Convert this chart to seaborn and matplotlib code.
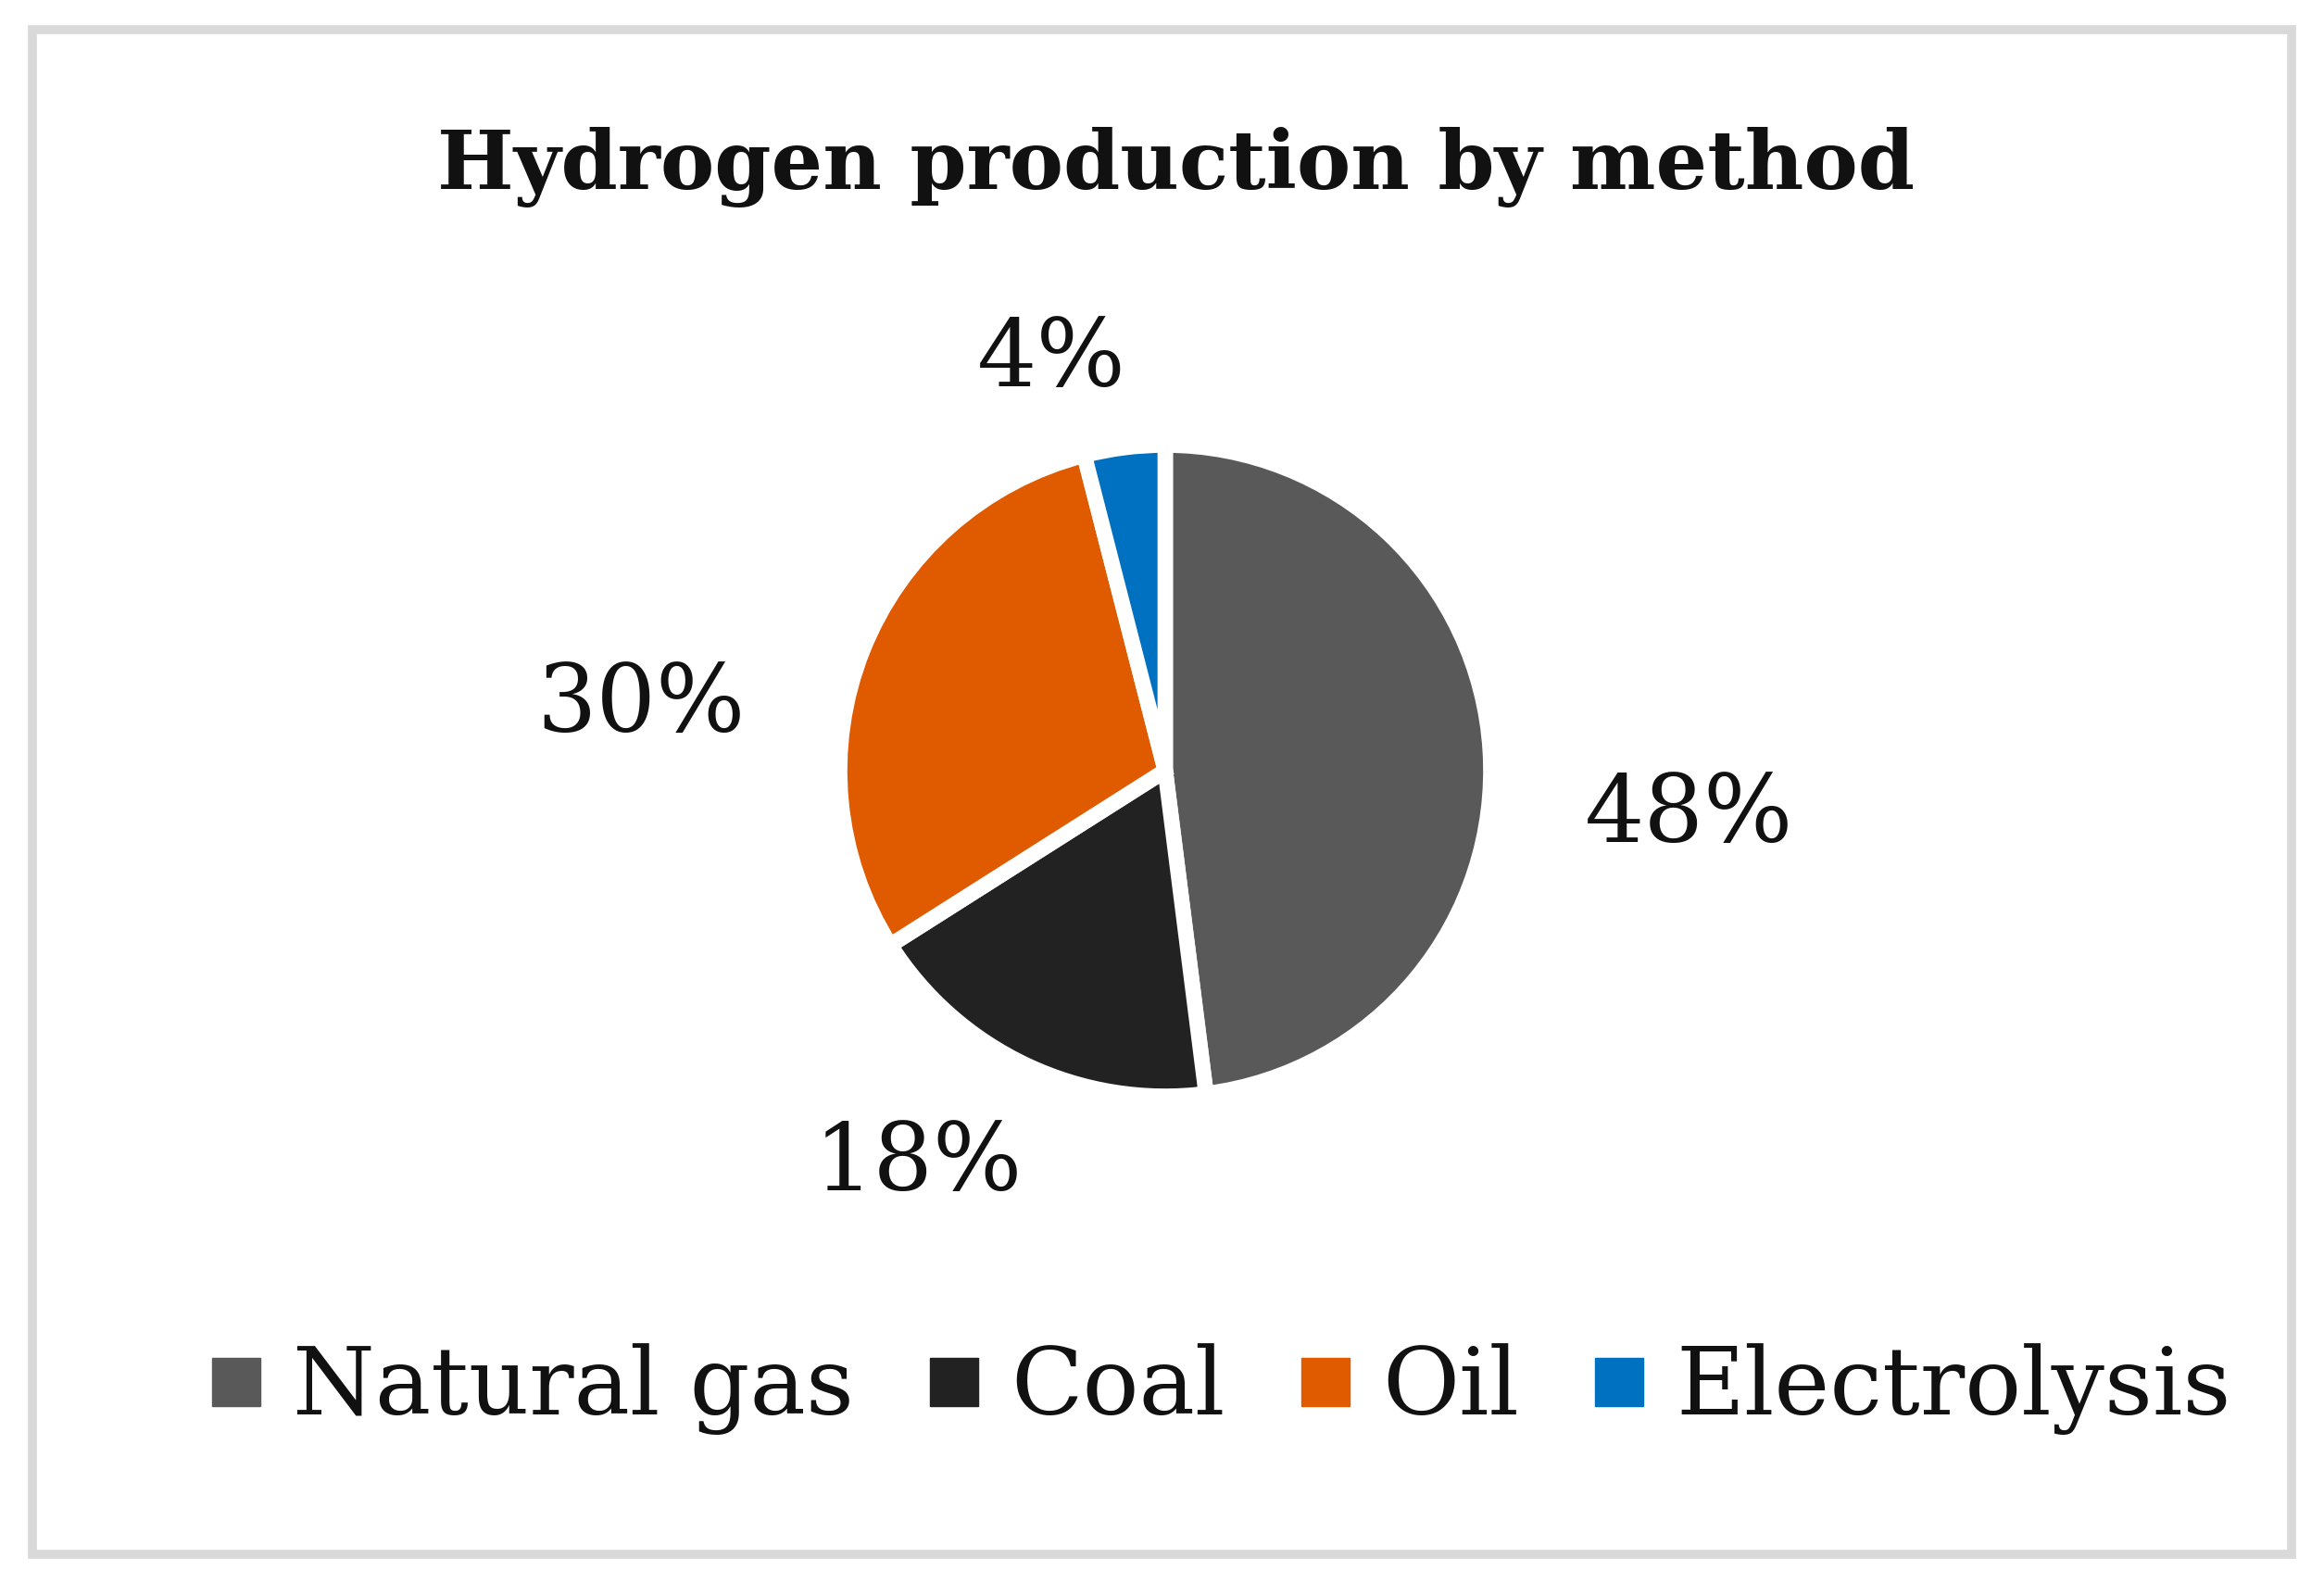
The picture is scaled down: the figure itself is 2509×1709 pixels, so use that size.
import matplotlib
matplotlib.use("Agg")
import matplotlib.pyplot as plt
import seaborn as sns
from matplotlib.lines import Line2D
from matplotlib.patches import Rectangle

methods = ["Natural gas", "Coal", "Oil", "Electrolysis"]
shares = [48, 18, 30, 4]
colors = ["#595959", "#222222", "#E05A00", "#0070C0"]

sns.set_theme(style="white")
plt.rcParams["font.family"] = ["DejaVu Serif", "Liberation Serif"]

W, H = 2509, 1709
fig = plt.figure(figsize=(W / 100, H / 100), dpi=100)
fig.patch.set_facecolor("white")

# light grey frame around the chart
fig.patches.append(Rectangle((35 / W, 1 - 1678 / H), (2474 - 35) / W, (1678 - 32) / H,
                             transform=fig.transFigure, fill=False,
                             edgecolor="#D9D9D9", linewidth=7))

# pie axes: centre (1258, 832) px, radius ~351 px
R = 351.5
cx, cy = 1258, 832
ax = fig.add_axes([(cx - R) / W, (H - cy - R) / H, 2 * R / W, 2 * R / H])
wedges, _ = ax.pie(shares, colors=colors, startangle=90, counterclock=False,
                   wedgeprops=dict(edgecolor="white", linewidth=12))
ax.set_xlim(-1, 1)
ax.set_ylim(-1, 1)
ax.set_aspect("equal")
ax.axis("off")

# data label placement (data units relative to pie centre)
label_xy = [(1.61, -0.14), (-0.76, -1.21), (-1.61, 0.2), (-0.35, 1.26)]
for (lx, ly), s in zip(label_xy, shares):
    ax.text(lx, ly, f"{s}%", ha="center", va="center", fontsize=73,
            color="#111111", clip_on=False)

fig.text(1270 / W, 1 - 180 / H, "Hydrogen production by method", ha="center",
         va="center", fontsize=63, fontweight="bold", color="#111111")

handles = [Line2D([], [], marker="s", linestyle="none", markersize=37,
                  markerfacecolor=c, markeredgecolor=c) for c in colors]
fig.legend(handles, methods, loc="center", bbox_to_anchor=(1319 / W, 1 - 1500 / H),
           ncol=4, frameon=False, fontsize=73, handlelength=0.5,
           handletextpad=0.35, columnspacing=0.82, labelcolor="#111111")

fig.savefig("out.png", dpi=100)
